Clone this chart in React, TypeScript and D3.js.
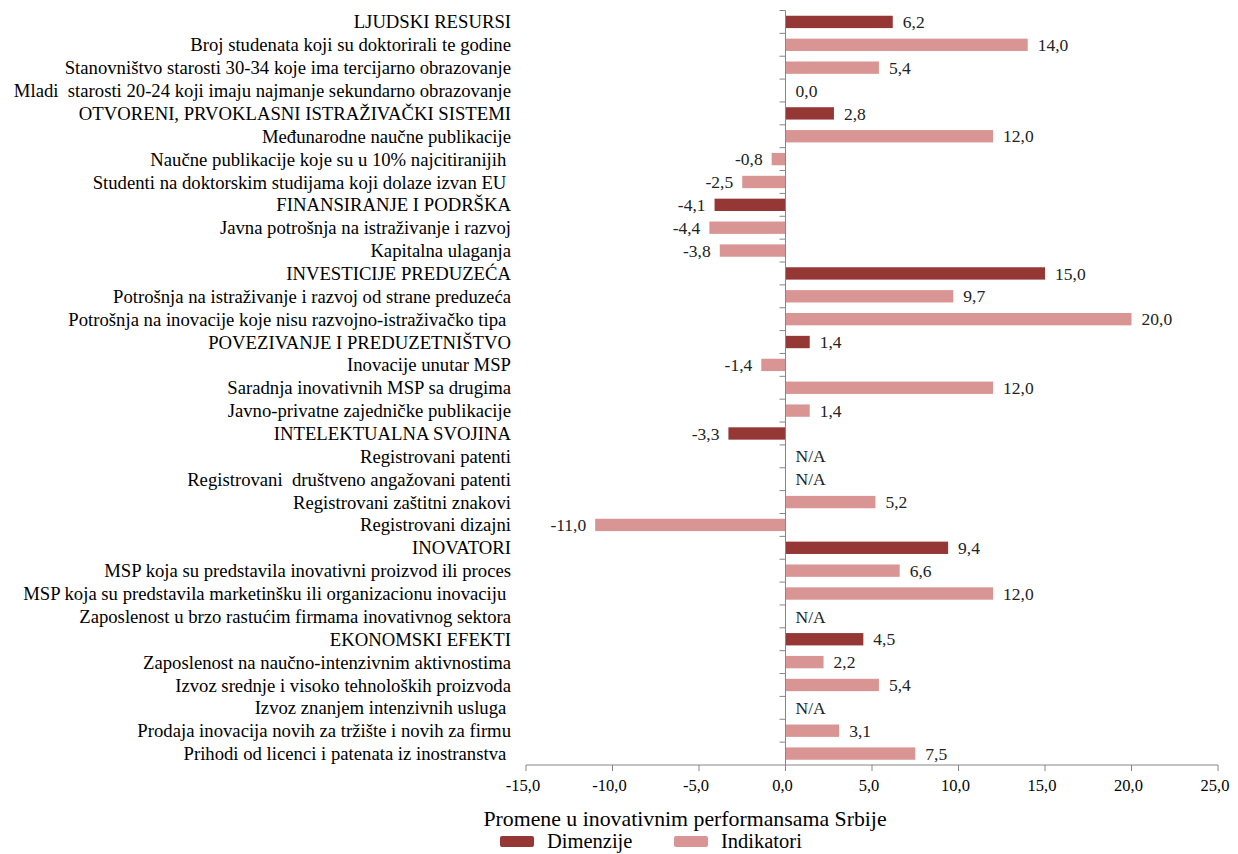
import { useEffect, useRef } from "react";
import * as d3 from "d3";

// rows top to bottom; null = N/A
const categories = [
  "LJUDSKI RESURSI",
  "Broj studenata koji su doktorirali te godine",
  "Stanovništvo starosti 30-34 koje ima tercijarno obrazovanje",
  "Mladi  starosti 20-24 koji imaju najmanje sekundarno obrazovanje",
  "OTVORENI, PRVOKLASNI ISTRAŽIVAČKI SISTEMI",
  "Međunarodne naučne publikacije",
  "Naučne publikacije koje su u 10% najcitiranijih ",
  "Studenti na doktorskim studijama koji dolaze izvan EU ",
  "FINANSIRANJE I PODRŠKA",
  "Javna potrošnja na istraživanje i razvoj",
  "Kapitalna ulaganja",
  "INVESTICIJE PREDUZEĆA",
  "Potrošnja na istraživanje i razvoj od strane preduzeća",
  "Potrošnja na inovacije koje nisu razvojno-istraživačko tipa ",
  "POVEZIVANJE I PREDUZETNIŠTVO",
  "Inovacije unutar MSP",
  "Saradnja inovativnih MSP sa drugima",
  "Javno-privatne zajedničke publikacije",
  "INTELEKTUALNA SVOJINA",
  "Registrovani patenti",
  "Registrovani  društveno angažovani patenti",
  "Registrovani zaštitni znakovi",
  "Registrovani dizajni",
  "INOVATORI",
  "MSP koja su predstavila inovativni proizvod ili proces",
  "MSP koja su predstavila marketinšku ili organizacionu inovaciju ",
  "Zaposlenost u brzo rastućim firmama inovativnog sektora",
  "EKONOMSKI EFEKTI",
  "Zaposlenost na naučno-intenzivnim aktivnostima",
  "Izvoz srednje i visoko tehnoloških proizvoda",
  "Izvoz znanjem intenzivnih usluga ",
  "Prodaja inovacija novih za tržište i novih za firmu",
  "Prihodi od licenci i patenata iz inostranstva ",
];

const values: (number | null)[] = [
  6.2, 14.0, 5.4, 0.0,
  2.8, 12.0, -0.8, -2.5,
  -4.1, -4.4, -3.8,
  15.0, 9.7, 20.0,
  1.4, -1.4, 12.0, 1.4,
  -3.3, null, null, 5.2, -11.0,
  9.4, 6.6, 12.0, null,
  4.5, 2.2, 5.4, null, 3.1, 7.5,
];

const dimensions = [
  "LJUDSKI RESURSI",
  "OTVORENI, PRVOKLASNI ISTRAŽIVAČKI SISTEMI",
  "FINANSIRANJE I PODRŠKA",
  "INVESTICIJE PREDUZEĆA",
  "POVEZIVANJE I PREDUZETNIŠTVO",
  "INTELEKTUALNA SVOJINA",
  "INOVATORI",
  "EKONOMSKI EFEKTI",
];

const xTicks = [-15, -10, -5, 0, 5, 10, 15, 20, 25];
const seriesNames = ["Dimenzije", "Indikatori"];
const title = "Promene u inovativnim performansama Srbije";

const DARK = "#953735";
const LIGHT = "#D99594";
const AXIS = "#868686";
const FONT = "'Liberation Serif', 'Times New Roman', serif";

const fmt = (v: number) => v.toFixed(1).replace(".", ",");

export default function App() {
  const ref = useRef<SVGSVGElement>(null);

  useEffect(() => {
    const el = ref.current;
    if (!el) return;
    const W = 1238, H = 854;
    const svg = d3.select(el).attr("width", W).attr("height", H).attr("viewBox", `0 0 ${W} ${H}`);
    svg.selectAll("*").remove();

    const x = d3.scaleLinear().domain([-15, 25]).range([526, 1218]);
    const y = d3.scaleBand<string>().domain(categories).range([10.5, 765]).paddingInner(0.46).paddingOuter(0.23);
    const step = y.step();
    const x0 = x(0);

    const rows = categories.map((c, i) => ({ c, v: values[i], dim: dimensions.includes(c) }));

    // bars
    svg.append("g").selectAll("rect").data(rows.filter((d) => d.v !== null && d.v !== 0)).join("rect")
      .attr("x", (d) => Math.min(x0, x(d.v as number)))
      .attr("width", (d) => Math.abs(x(d.v as number) - x0))
      .attr("y", (d) => y(d.c) ?? 0)
      .attr("height", y.bandwidth())
      .attr("fill", (d) => (d.dim ? DARK : LIGHT));

    // y axis line + category boundary ticks
    svg.append("line").attr("x1", x0).attr("x2", x0).attr("y1", 10.5).attr("y2", 765).attr("stroke", AXIS).attr("stroke-width", 1);
    svg.append("g").selectAll("line").data(d3.range(categories.length)).join("line")
      .attr("x1", x0 - 6).attr("x2", x0)
      .attr("y1", (i) => 10.5 + i * step).attr("y2", (i) => 10.5 + i * step)
      .attr("stroke", AXIS).attr("stroke-width", 1);

    // category labels
    svg.append("g").selectAll("text").data(rows).join("text")
      .attr("x", 511).attr("y", (d) => (y(d.c) ?? 0) + y.bandwidth() / 2)
      .attr("dy", "0.35em").attr("text-anchor", "end")
      .attr("font-family", FONT).attr("font-size", 18.7).attr("fill", "#000")
      .style("white-space", "pre")
      .text((d) => d.c);

    // value labels
    svg.append("g").selectAll("text").data(rows).join("text")
      .attr("x", (d) => (d.v === null || d.v >= 0 ? x(d.v ?? 0) + 10 : x(d.v) - 9))
      .attr("y", (d) => (y(d.c) ?? 0) + y.bandwidth() / 2)
      .attr("dy", "0.35em")
      .attr("text-anchor", (d) => (d.v !== null && d.v < 0 ? "end" : "start"))
      .attr("font-family", FONT).attr("font-size", 17.5).attr("fill", "#222")
      .text((d) => (d.v === null ? "N/A" : fmt(d.v)));

    // x axis
    const xa = svg.append("g").attr("transform", "translate(0,765)");
    xa.append("line").attr("x1", x(-15)).attr("x2", x(25)).attr("stroke", AXIS);
    xa.selectAll("line.t").data(xTicks).join("line").attr("class", "t")
      .attr("x1", (d) => x(d)).attr("x2", (d) => x(d)).attr("y1", 0).attr("y2", 6).attr("stroke", AXIS);
    xa.selectAll("text").data(xTicks).join("text")
      .attr("x", (d) => x(d) - 3).attr("y", 20).attr("dy", "0.35em").attr("text-anchor", "middle")
      .attr("font-family", FONT).attr("font-size", 16.5).attr("fill", "#000")
      .text((d) => fmt(d));

    // title
    svg.append("text").attr("x", 685).attr("y", 818).attr("dy", "0.35em").attr("text-anchor", "middle")
      .attr("font-family", FONT).attr("font-size", 21.8).attr("fill", "#000").text(title);

    // legend
    const leg = svg.append("g").selectAll("g").data(seriesNames).join("g")
      .attr("transform", (_d, i) => `translate(${500 + i * 174},836)`);
    leg.append("rect").attr("width", 34).attr("height", 11).attr("rx", 2).attr("fill", (_d, i) => (i === 0 ? DARK : LIGHT));
    leg.append("text").attr("x", 47).attr("y", 12)
      .attr("font-family", FONT).attr("font-size", 20.5).attr("fill", "#000").text((d) => d);
  }, []);

  return <svg ref={ref} style={{ position: "absolute", left: 0, top: 0, background: "#fff" }} />;
}
